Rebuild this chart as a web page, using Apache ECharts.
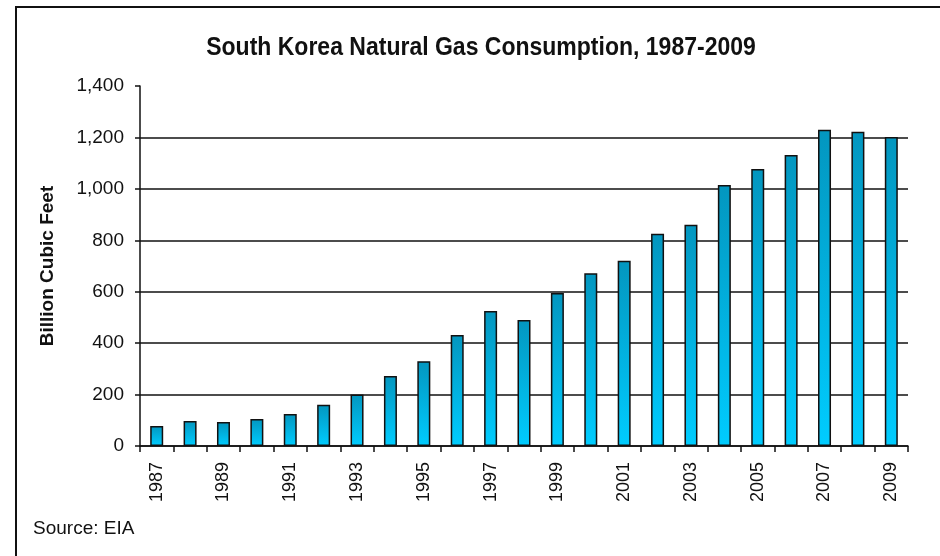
<!DOCTYPE html>
<html>
<head>
<meta charset="utf-8">
<script src="https://cdn.jsdelivr.net/npm/echarts@6/dist/echarts.min.js"></script>
<style>
  html, body { margin: 0; padding: 0; background: #fff; }
  #frame { position: absolute; left: 15px; top: 6px; width: 940px; height: 560px;
           border-left: 2px solid #111; border-top: 2px solid #111; box-sizing: border-box; }
  #chart { position: absolute; left: 0; top: 0; width: 940px; height: 556px; }
</style>
</head>
<body>
<div id="frame"></div>
<div id="chart"></div>
<script>
// years 1987-2009
var years = ['1987','1988','1989','1990','1991','1992','1993','1994','1995','1996','1997','1998',
             '1999','2000','2001','2002','2003','2004','2005','2006','2007','2008','2009'];
// consumption, billion cubic feet
var consumption = [78, 97, 93, 105, 124, 160, 200, 272, 330, 432, 525, 490,
                   595, 672, 720, 825, 860, 1015, 1077, 1132, 1230, 1222, 1202];

var font = "'Liberation Sans', Arial, sans-serif";
var chart = echarts.init(document.getElementById('chart'));

var option = {
    backgroundColor: 'transparent',
    animation: false,
    graphic: [{
        // title, squeezed a bit to look like the narrow original
        type: 'text',
        x: 481,
        y: 48,
        scaleX: 0.92,
        style: {
            text: 'South Korea Natural Gas Consumption, 1987-2009',
            font: 'bold 25px ' + font,
            fill: '#111',
            align: 'center',
            verticalAlign: 'middle'
        }
    }, {
        type: 'text',
        x: 33,
        y: 529,
        style: {
            text: 'Source: EIA',
            font: '19px ' + font,
            fill: '#111',
            verticalAlign: 'middle'
        }
    }],
    grid: {
        left: 140,
        right: 32,
        top: 86,
        bottom: 110
    },
    xAxis: {
        type: 'category',
        data: years,
        boundaryGap: true,
        axisLine: { lineStyle: { color: '#111', width: 1.5 } },
        axisTick: { show: true, length: 6, interval: 0, lineStyle: { color: '#111', width: 1.5 } },
        axisLabel: {
            interval: 1,
            rotate: 90,
            margin: 16,
            color: '#111',
            fontFamily: font,
            fontSize: 18
        },
        splitLine: { show: false }
    },
    yAxis: {
        type: 'value',
        min: 0,
        max: 1400,
        interval: 200,
        name: 'Billion Cubic Feet',
        nameLocation: 'middle',
        nameGap: 83,
        nameTextStyle: {
            fontFamily: font,
            fontWeight: 'bold',
            fontSize: 19,
            color: '#111'
        },
        axisLine: { show: true, lineStyle: { color: '#111', width: 1.5 } },
        axisTick: { show: true, length: 5, lineStyle: { color: '#111', width: 1.5 } },
        axisLabel: {
            margin: 16,
            color: '#111',
            fontFamily: font,
            fontSize: 19,
            formatter: function (v) {
                return v.toLocaleString('en-US');
            }
        },
        splitLine: {
            show: true,
            lineStyle: {
                // no gridline at the top value
                color: ['#111', '#111', '#111', '#111', '#111', '#111', '#111', 'transparent'],
                width: 1.5
            }
        }
    },
    series: [{
        type: 'bar',
        data: consumption,
        barWidth: 13,
        itemStyle: {
            borderColor: '#111',
            borderWidth: 1.5,
            color: new echarts.graphic.LinearGradient(0, 0, 0, 1, [
                { offset: 0, color: '#0396bf' },
                { offset: 1, color: '#00ccff' }
            ])
        }
    }]
};

chart.setOption(option);
</script>
</body>
</html>
